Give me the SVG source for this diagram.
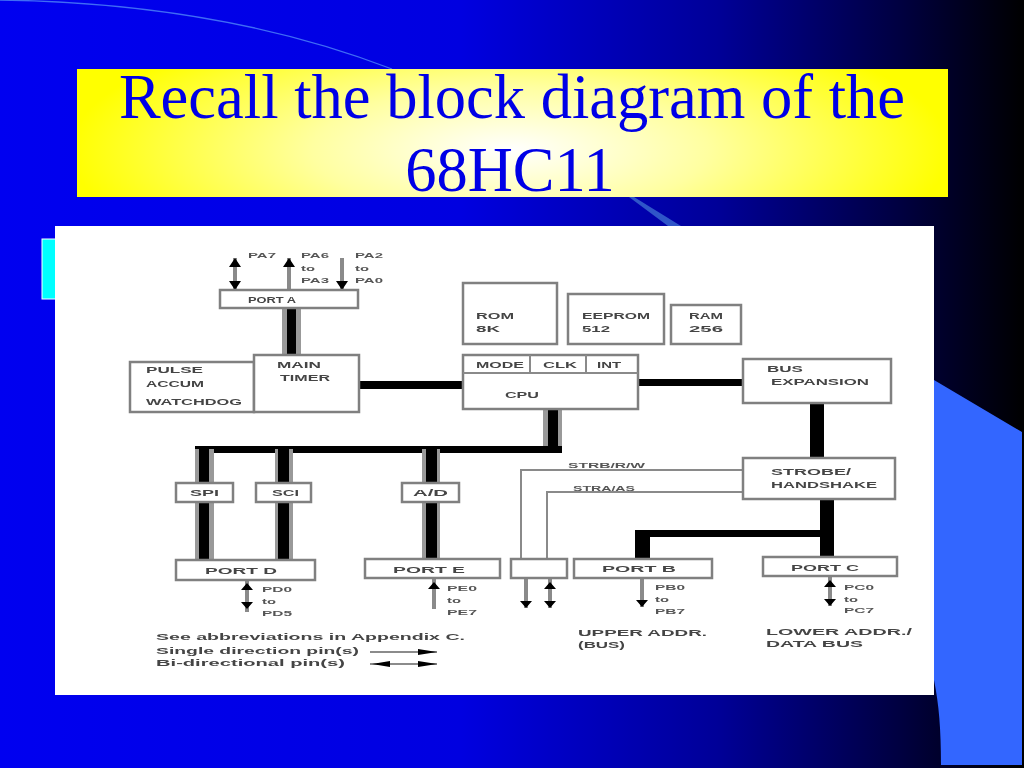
<svg xmlns="http://www.w3.org/2000/svg" width="1024" height="768" viewBox="0 0 1024 768">
<defs>
<linearGradient id="bg" x1="0" y1="0" x2="1" y2="0"><stop offset="0" stop-color="#0000f0"/><stop offset="0.45" stop-color="#0000e0"/><stop offset="0.7" stop-color="#000098"/><stop offset="0.88" stop-color="#000040"/><stop offset="1" stop-color="#000000"/></linearGradient>
<radialGradient id="ttl" gradientUnits="userSpaceOnUse" cx="510" cy="150" r="440" gradientTransform="translate(0 102) scale(1 0.32)"><stop offset="0" stop-color="#ffffff"/><stop offset="0.45" stop-color="#ffffa0"/><stop offset="1" stop-color="#ffff00"/></radialGradient>
<filter id="soft" x="-5%" y="-5%" width="110%" height="110%"><feGaussianBlur stdDeviation="0.7"/></filter>
<style>
.title{font-family:"Liberation Serif",serif;font-size:62.5px;fill:#0000e6;text-anchor:middle}
.box{fill:#fff;stroke:#808080;stroke-width:2.5}
.bus{fill:#000}
.halo{fill:#999}
.wire{fill:none;stroke:#8a8a8a;stroke-width:2}
.pin{stroke:#8a8a8a;stroke-width:4;fill:none}
.thin{stroke:#666;stroke-width:1.5;fill:none}
.head{fill:#000}
.t{font-family:"Liberation Sans",sans-serif;font-size:9px;fill:#444;font-weight:700}
.s{font-family:"Liberation Sans",sans-serif;font-size:8px;fill:#555;font-weight:700}
</style>
</defs>
<rect width="1024" height="768" fill="url(#bg)"/>
<path d="M0 0C140 2 270 22 392 69" fill="none" stroke="#3f6cf5" stroke-width="1.3"/>
<path d="M629 197L634 197L681 226L668 226Z" fill="#2f55c8"/>
<path d="M934 380L1022 432V765H941C941 730 939 705 934 680Z" fill="#3366ff"/>
<rect x="42" y="239" width="20" height="60" fill="#00ffff" stroke="#fff"/>
<g id="title"><rect x="77" y="69" width="871" height="128" fill="url(#ttl)"/>
<text class="title" x="512" y="118">Recall the block diagram of the</text>
<text class="title" x="510" y="191">68HC11</text></g>
<rect x="55" y="226" width="879" height="469" fill="#fff"/>
<g filter="url(#soft)">
<g id="connectors">
<rect class="halo" x="282" y="306" width="19" height="50"/><rect class="bus" x="287" y="306" width="9" height="50"/>
<rect class="bus" x="358" y="381" width="106" height="8"/>
<rect class="bus" x="638" y="379" width="105" height="7"/>
<rect class="bus" x="810" y="402" width="14" height="57"/>
<rect class="halo" x="543" y="408" width="19" height="45"/><rect class="bus" x="548" y="408" width="10" height="45"/>
<rect class="bus" x="195" y="446" width="367" height="7"/>
<rect class="halo" x="195" y="449" width="19" height="111"/><rect class="bus" x="199" y="449" width="10" height="111"/>
<rect class="halo" x="275" y="449" width="18" height="111"/><rect class="bus" x="278" y="449" width="11" height="111"/>
<rect class="halo" x="422" y="449" width="18" height="111"/><rect class="bus" x="426" y="449" width="11" height="111"/>
<rect class="bus" x="820" y="498" width="14" height="60"/>
<rect class="bus" x="635" y="530" width="190" height="7"/>
<rect class="bus" x="635" y="530" width="15" height="30"/>
<path class="wire" d="M742 470H521V559M742 492H547V559"/>
<path class="pin" d="M235 258V290M289 258V290M342 258V290M247 580V612M434 578V609M526 578V608M550 578V608M642 578V607M830 576V606"/>
<path class="head" d="M235 258L241 267H229ZM235 290L241 281H229ZM289 258L295 267H283ZM342 290L348 281H336ZM247 583L253 590H241ZM247 609L253 602H241ZM434 582L440 589H428ZM526 608L532 601H520ZM550 582L556 589H544ZM550 608L556 601H544ZM642 607L648 600H636ZM830 580L836 587H824ZM830 606L836 599H824Z"/>
<path class="thin" d="M370 652H437M370 664H437"/>
<path class="head" d="M437 652L418 649V655ZM437 664L418 661V667ZM372 664L390 661V667Z"/>
</g>
<g id="port-a"><rect class="box" x="220" y="290" width="138" height="18"/><text class="t" x="248" y="303" textLength="48" lengthAdjust="spacingAndGlyphs">PORT A</text></g>
<g id="pa7"><text class="s" x="248" y="258" textLength="28" lengthAdjust="spacingAndGlyphs">PA7</text></g>
<g id="pa6"><text class="s" x="301" y="258" textLength="28" lengthAdjust="spacingAndGlyphs">PA6</text><text class="s" x="301" y="271" textLength="14" lengthAdjust="spacingAndGlyphs">to</text><text class="s" x="301" y="283" textLength="28" lengthAdjust="spacingAndGlyphs">PA3</text></g>
<g id="pa2"><text class="s" x="355" y="258" textLength="28" lengthAdjust="spacingAndGlyphs">PA2</text><text class="s" x="355" y="271" textLength="14" lengthAdjust="spacingAndGlyphs">to</text><text class="s" x="355" y="283" textLength="28" lengthAdjust="spacingAndGlyphs">PA0</text></g>
<g id="pulse"><rect class="box" x="130" y="362" width="124" height="50"/><text class="t" x="146" y="373" textLength="57" lengthAdjust="spacingAndGlyphs">PULSE</text><text class="t" x="146" y="387" textLength="58" lengthAdjust="spacingAndGlyphs">ACCUM</text><text class="t" x="146" y="405" textLength="96" lengthAdjust="spacingAndGlyphs">WATCHDOG</text></g>
<g id="main-timer"><rect class="box" x="254" y="355" width="105" height="57"/><text class="t" x="277" y="368" textLength="44" lengthAdjust="spacingAndGlyphs">MAIN</text><text class="t" x="280" y="381" textLength="50" lengthAdjust="spacingAndGlyphs">TIMER</text></g>
<g id="rom"><rect class="box" x="463" y="283" width="94" height="61"/><text class="t" x="476" y="319" textLength="38" lengthAdjust="spacingAndGlyphs">ROM</text><text class="t" x="476" y="332" textLength="24" lengthAdjust="spacingAndGlyphs">8K</text></g>
<g id="eeprom"><rect class="box" x="568" y="294" width="96" height="50"/><text class="t" x="582" y="319" textLength="68" lengthAdjust="spacingAndGlyphs">EEPROM</text><text class="t" x="582" y="332" textLength="28" lengthAdjust="spacingAndGlyphs">512</text></g>
<g id="ram"><rect class="box" x="671" y="305" width="70" height="39"/><text class="t" x="689" y="319" textLength="34" lengthAdjust="spacingAndGlyphs">RAM</text><text class="t" x="689" y="332" textLength="34" lengthAdjust="spacingAndGlyphs">256</text></g>
<g id="cpu"><rect class="box" x="463" y="355" width="175" height="54"/><path class="wire" d="M463 373H638M530 355V373M586 355V373"/><text class="t" x="476" y="368" textLength="48" lengthAdjust="spacingAndGlyphs">MODE</text><text class="t" x="543" y="368" textLength="34" lengthAdjust="spacingAndGlyphs">CLK</text><text class="t" x="597" y="368" textLength="24" lengthAdjust="spacingAndGlyphs">INT</text><text class="t" x="505" y="398" textLength="34" lengthAdjust="spacingAndGlyphs">CPU</text></g>
<g id="bus-expansion"><rect class="box" x="743" y="359" width="148" height="44"/><text class="t" x="767" y="372" textLength="36" lengthAdjust="spacingAndGlyphs">BUS</text><text class="t" x="771" y="385" textLength="98" lengthAdjust="spacingAndGlyphs">EXPANSION</text></g>
<g id="strobe"><rect class="box" x="743" y="458" width="152" height="41"/><text class="t" x="771" y="475" textLength="80" lengthAdjust="spacingAndGlyphs">STROBE/</text><text class="t" x="771" y="488" textLength="106" lengthAdjust="spacingAndGlyphs">HANDSHAKE</text></g>
<g id="strb-label"><text class="s" x="568" y="468" textLength="77" lengthAdjust="spacingAndGlyphs">STRB/R/W</text></g>
<g id="stra-label"><text class="s" x="573" y="491" textLength="62" lengthAdjust="spacingAndGlyphs">STRA/AS</text></g>
<g id="spi"><rect class="box" x="176" y="483" width="57" height="19"/><text class="t" x="190" y="496" textLength="29" lengthAdjust="spacingAndGlyphs">SPI</text></g>
<g id="sci"><rect class="box" x="256" y="483" width="55" height="19"/><text class="t" x="272" y="496" textLength="27" lengthAdjust="spacingAndGlyphs">SCI</text></g>
<g id="ad"><rect class="box" x="402" y="483" width="57" height="19"/><text class="t" x="413" y="496" textLength="35" lengthAdjust="spacingAndGlyphs">A/D</text></g>
<g id="port-d"><rect class="box" x="176" y="560" width="139" height="20"/><text class="t" x="205" y="574" textLength="72" lengthAdjust="spacingAndGlyphs">PORT D</text></g>
<g id="port-e"><rect class="box" x="365" y="559" width="135" height="19"/><text class="t" x="393" y="573" textLength="72" lengthAdjust="spacingAndGlyphs">PORT E</text></g>
<g id="port-empty"><rect class="box" x="511" y="559" width="56" height="19"/></g>
<g id="port-b"><rect class="box" x="574" y="559" width="138" height="19"/><text class="t" x="602" y="572" textLength="74" lengthAdjust="spacingAndGlyphs">PORT B</text></g>
<g id="port-c"><rect class="box" x="763" y="557" width="134" height="19"/><text class="t" x="791" y="571" textLength="68" lengthAdjust="spacingAndGlyphs">PORT C</text></g>
<g id="pd-pins"><text class="s" x="262" y="592" textLength="30" lengthAdjust="spacingAndGlyphs">PD0</text><text class="s" x="262" y="604" textLength="14" lengthAdjust="spacingAndGlyphs">to</text><text class="s" x="262" y="616" textLength="30" lengthAdjust="spacingAndGlyphs">PD5</text></g>
<g id="pe-pins"><text class="s" x="447" y="591" textLength="30" lengthAdjust="spacingAndGlyphs">PE0</text><text class="s" x="447" y="603" textLength="14" lengthAdjust="spacingAndGlyphs">to</text><text class="s" x="447" y="615" textLength="30" lengthAdjust="spacingAndGlyphs">PE7</text></g>
<g id="pb-pins"><text class="s" x="655" y="590" textLength="30" lengthAdjust="spacingAndGlyphs">PB0</text><text class="s" x="655" y="602" textLength="14" lengthAdjust="spacingAndGlyphs">to</text><text class="s" x="655" y="614" textLength="30" lengthAdjust="spacingAndGlyphs">PB7</text></g>
<g id="pc-pins"><text class="s" x="844" y="590" textLength="30" lengthAdjust="spacingAndGlyphs">PC0</text><text class="s" x="844" y="602" textLength="14" lengthAdjust="spacingAndGlyphs">to</text><text class="s" x="844" y="613" textLength="30" lengthAdjust="spacingAndGlyphs">PC7</text></g>
<g id="upper-label"><text class="t" x="578" y="636" textLength="129" lengthAdjust="spacingAndGlyphs">UPPER ADDR.</text><text class="t" x="578" y="648" textLength="47" lengthAdjust="spacingAndGlyphs">(BUS)</text></g>
<g id="lower-label"><text class="t" x="766" y="635" textLength="146" lengthAdjust="spacingAndGlyphs">LOWER ADDR./</text><text class="t" x="766" y="647" textLength="97" lengthAdjust="spacingAndGlyphs">DATA BUS</text></g>
<g id="legend"><text class="t" x="156" y="640" textLength="309" lengthAdjust="spacingAndGlyphs">See abbreviations in Appendix C.</text><text class="t" x="156" y="654" textLength="203" lengthAdjust="spacingAndGlyphs">Single direction pin(s)</text><text class="t" x="156" y="666" textLength="189" lengthAdjust="spacingAndGlyphs">Bi-directional pin(s)</text></g>
</g>
</svg>
